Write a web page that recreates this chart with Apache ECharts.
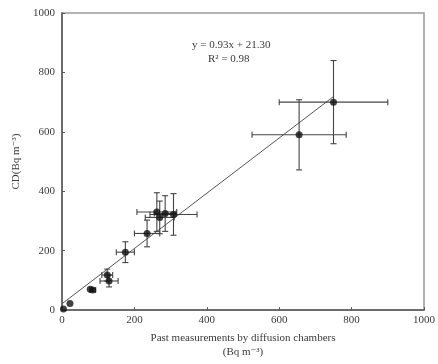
<!DOCTYPE html>
<html>
<head>
<meta charset="utf-8">
<script src="https://cdn.jsdelivr.net/npm/echarts@6/dist/echarts.min.js"></script>
<style>
  html, body { margin: 0; padding: 0; background: #fff; }
  #chart { width: 438px; height: 364px; }
</style>
</head>
<body>
<div id="chart"></div>
<script>
// measured points: past measurement (x), CD (y), with their errors
const pastX = [750, 655, 262, 270, 285, 308, 235, 175, 125, 130, 85, 78, 22, 4];
const cdY   = [700, 590, 330, 312, 325, 322, 258, 195, 118, 98, 68, 70, 22, 4];
const xErr  = [150, 130, 55, 40, 30, 65, 35, 25, 15, 25, 8, 0, 0, 0];
const yErr  = [140, 118, 65, 55, 60, 70, 45, 35, 20, 20, 5, 0, 0, 0];

// fit line y = 0.93x + 21.30
const fitX = [0, 750];
const fitY = [21.3, 718.8];

const chart = echarts.init(document.getElementById('chart'));

const points = pastX.map((x, i) => [x, cdY[i], xErr[i], yErr[i]]);
const font = '"Liberation Serif", "DejaVu Serif", serif';
const ink = '#3a3a3a';

// 误差线
function renderErrorBar(params, api) {
  const x = api.value(0), y = api.value(1);
  const ex = api.value(2), ey = api.value(3);
  const children = [];
  const style = { stroke: '#444', lineWidth: 1.1 };
  const cap = 3;
  if (ex > 0) {
    const l = api.coord([x - ex, y]);
    const r = api.coord([x + ex, y]);
    children.push({ type: 'line', shape: { x1: l[0], y1: l[1], x2: r[0], y2: r[1] }, style });
    children.push({ type: 'line', shape: { x1: l[0], y1: l[1] - cap, x2: l[0], y2: l[1] + cap }, style });
    children.push({ type: 'line', shape: { x1: r[0], y1: r[1] - cap, x2: r[0], y2: r[1] + cap }, style });
  }
  if (ey > 0) {
    const t = api.coord([x, y + ey]);
    const b = api.coord([x, y - ey]);
    children.push({ type: 'line', shape: { x1: t[0], y1: t[1], x2: b[0], y2: b[1] }, style });
    children.push({ type: 'line', shape: { x1: t[0] - cap, y1: t[1], x2: t[0] + cap, y2: t[1] }, style });
    children.push({ type: 'line', shape: { x1: b[0] - cap, y1: b[1], x2: b[0] + cap, y2: b[1] }, style });
  }
  return { type: 'group', children };
}

const axisCommon = {
  type: 'value',
  min: 0,
  max: 1000,
  interval: 200,
  axisLine: { show: true, lineStyle: { color: '#555', width: 1.5 } },
  axisTick: { show: true, inside: true, length: 3, lineStyle: { color: '#555' } },
  splitLine: { show: false },
  nameTextStyle: { color: ink, fontFamily: font, fontSize: 11 }
};

const option = {
  animation: false,
  backgroundColor: '#fff',
  grid: {
    left: 62, right: 10, top: 13, bottom: 50,
    show: true, borderColor: '#999', borderWidth: 1.5
  },
  xAxis: Object.assign({}, axisCommon, {
    name: 'Past measurements by diffusion chambers\n(Bq m⁻³)',
    nameLocation: 'middle',
    nameGap: 17,
    nameTextStyle: { color: ink, fontFamily: font, fontSize: 11, lineHeight: 14, verticalAlign: 'top' },
    axisLabel: { color: ink, fontFamily: font, fontSize: 11, margin: 5, formatter: v => String(v) }
  }),
  yAxis: Object.assign({}, axisCommon, {
    name: 'CD(Bq m⁻³)',
    nameLocation: 'middle',
    nameGap: 38,
    axisLabel: { color: ink, fontFamily: font, fontSize: 11, margin: 7, formatter: v => String(v) }
  }),
  graphic: [
    {
      type: 'text', left: 192, top: 40,
      style: { text: 'y = 0.93x + 21.30', fill: ink, font: '11px ' + font }
    },
    {
      type: 'text', left: 208, top: 54,
      style: { text: 'R² = 0.98', fill: ink, font: '11px ' + font }
    }
  ],
  series: [
    {
      type: 'line',
      data: fitX.map((x, i) => [x, fitY[i]]),
      symbol: 'none',
      lineStyle: { color: '#555', width: 1 },
      z: 1
    },
    {
      type: 'custom',
      renderItem: renderErrorBar,
      data: points,
      encode: { x: 0, y: 1 },
      z: 2
    },
    {
      type: 'scatter',
      data: points.map(p => [p[0], p[1]]),
      symbolSize: 7,
      itemStyle: { color: '#111' },
      z: 3
    }
  ]
};

chart.setOption(option);
</script>
</body>
</html>
